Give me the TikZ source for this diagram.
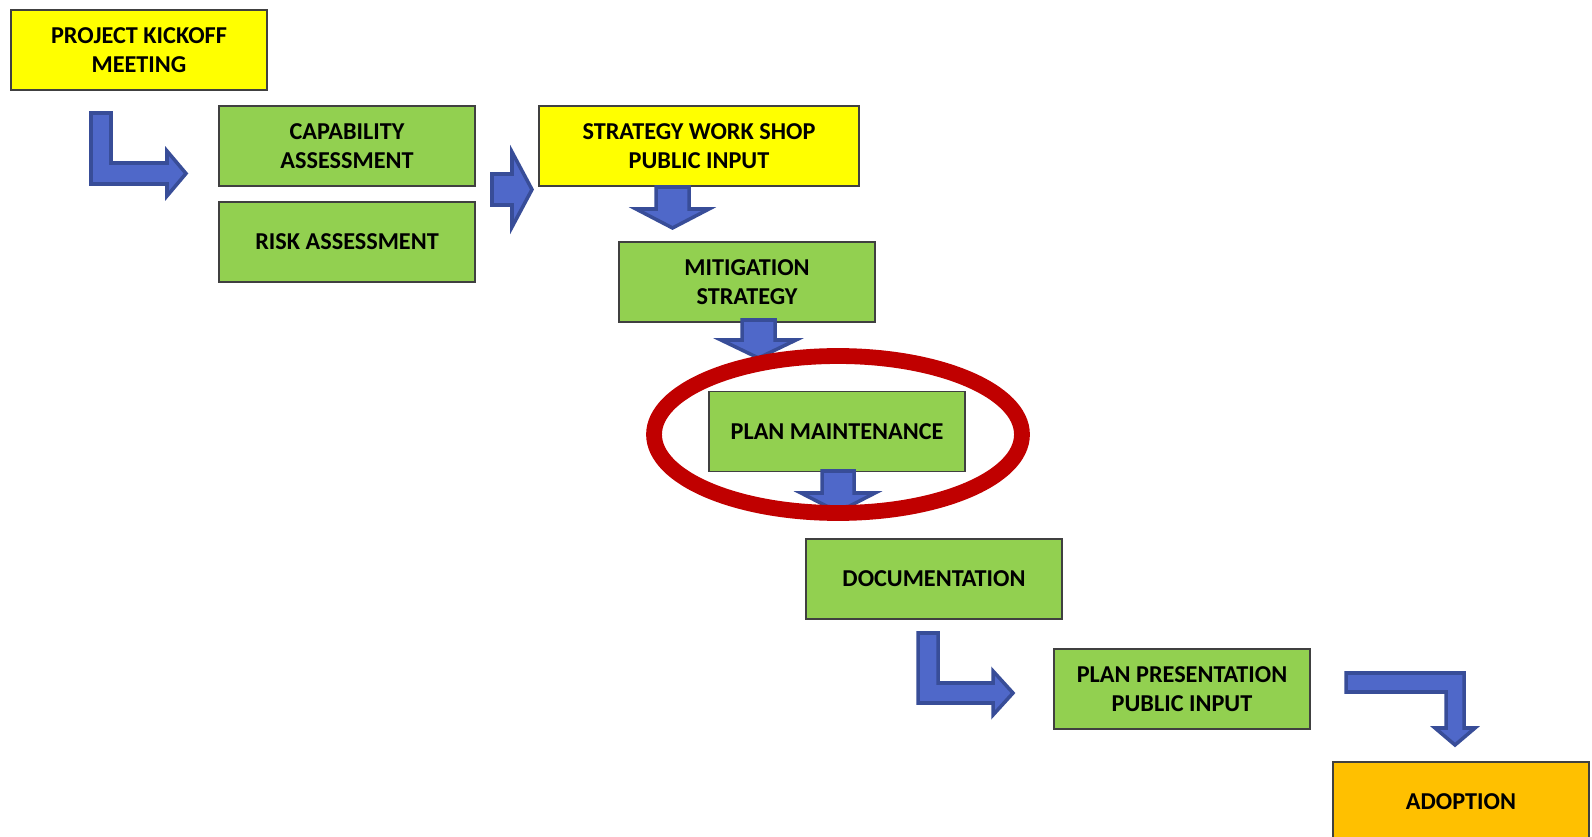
\documentclass[tikz,border=0pt]{standalone}
\usepackage{fontspec}
\setmainfont{Carlito}
\usepackage{tikz}

\definecolor{boxgreen}{RGB}{146,208,80}
\definecolor{boxyellow}{RGB}{255,255,0}
\definecolor{boxorange}{RGB}{255,192,0}
\definecolor{arrowfill}{RGB}{79,104,201}
\definecolor{arrowline}{RGB}{56,77,152}
\definecolor{ringred}{RGB}{192,0,0}

\begin{document}
\begin{tikzpicture}[x=0.02cm, y=-0.02cm,
    stepbox/.style={shape=rectangle, draw=black!75, line width=0.75pt, minimum width=5.12cm, minimum height=1.6cm, align=center, font=\fontsize{13.8}{16.5}\selectfont\bfseries, inner sep=0pt},
    blockarrow/.style={fill=arrowfill, draw=arrowline, line width=2pt, line join=miter}]
    \useasboundingbox (0,0) rectangle (1592,837);

    \node[stepbox, fill=boxyellow] (kickoff) at (139,50) {PROJECT KICKOFF\\MEETING};
    \node[stepbox, fill=boxgreen] (capability) at (347,146) {CAPABILITY\\ASSESSMENT};
    \node[stepbox, fill=boxgreen] (risk) at (347,242) {RISK ASSESSMENT};
    \node[stepbox, fill=boxyellow, minimum width=6.4cm] (workshop) at (699,146) {STRATEGY WORK SHOP\\PUBLIC INPUT};
    \node[stepbox, fill=boxgreen] (mitigation) at (747,282) {MITIGATION\\STRATEGY};
    \node[stepbox, fill=boxgreen] (maintenance) at (837,431.5) {PLAN MAINTENANCE};
    \node[stepbox, fill=boxgreen] (documentation) at (934,579) {DOCUMENTATION};
    \node[stepbox, fill=boxgreen] (presentation) at (1182,689) {PLAN PRESENTATION\\PUBLIC INPUT};
    \node[stepbox, fill=boxorange] (adoption) at (1461,802) {ADOPTION};

    \draw[blockarrow] (91,113) -- (111,113) -- (111,163) -- (167,163) -- (167,151) -- (186,173.5) -- (167,196) -- (167,184) -- (91,184) -- cycle;
    \draw[blockarrow] (492,174) -- (512,174) -- (512,152) -- (532,189.5) -- (512,227) -- (512,205) -- (492,205) -- cycle;
    \draw[blockarrow] (656,187) -- (689,187) -- (689,209) -- (709,209) -- (672.5,228) -- (636,209) -- (656,209) -- cycle;
    \draw[blockarrow] (742,320) -- (775,320) -- (775,340) -- (796,340) -- (758.5,358) -- (721,340) -- (742,340) -- cycle;
    \draw[blockarrow] (822,471) -- (854,471) -- (854,493) -- (875,493) -- (838,512) -- (801,493) -- (822,493) -- cycle;
    \draw[blockarrow] (918,633) -- (938,633) -- (938,683) -- (993,683) -- (993,671) -- (1013,693) -- (993,715) -- (993,703) -- (918,703) -- cycle;
    \draw[blockarrow] (1346,673) -- (1464,673) -- (1464,728) -- (1475,728) -- (1455,745) -- (1435,728) -- (1446,728) -- (1446,692) -- (1346,692) -- cycle;

    \draw[ringred, line width=9pt] (838,434.5) ellipse [x radius=3.68cm, y radius=1.57cm];
\end{tikzpicture}
\end{document}
